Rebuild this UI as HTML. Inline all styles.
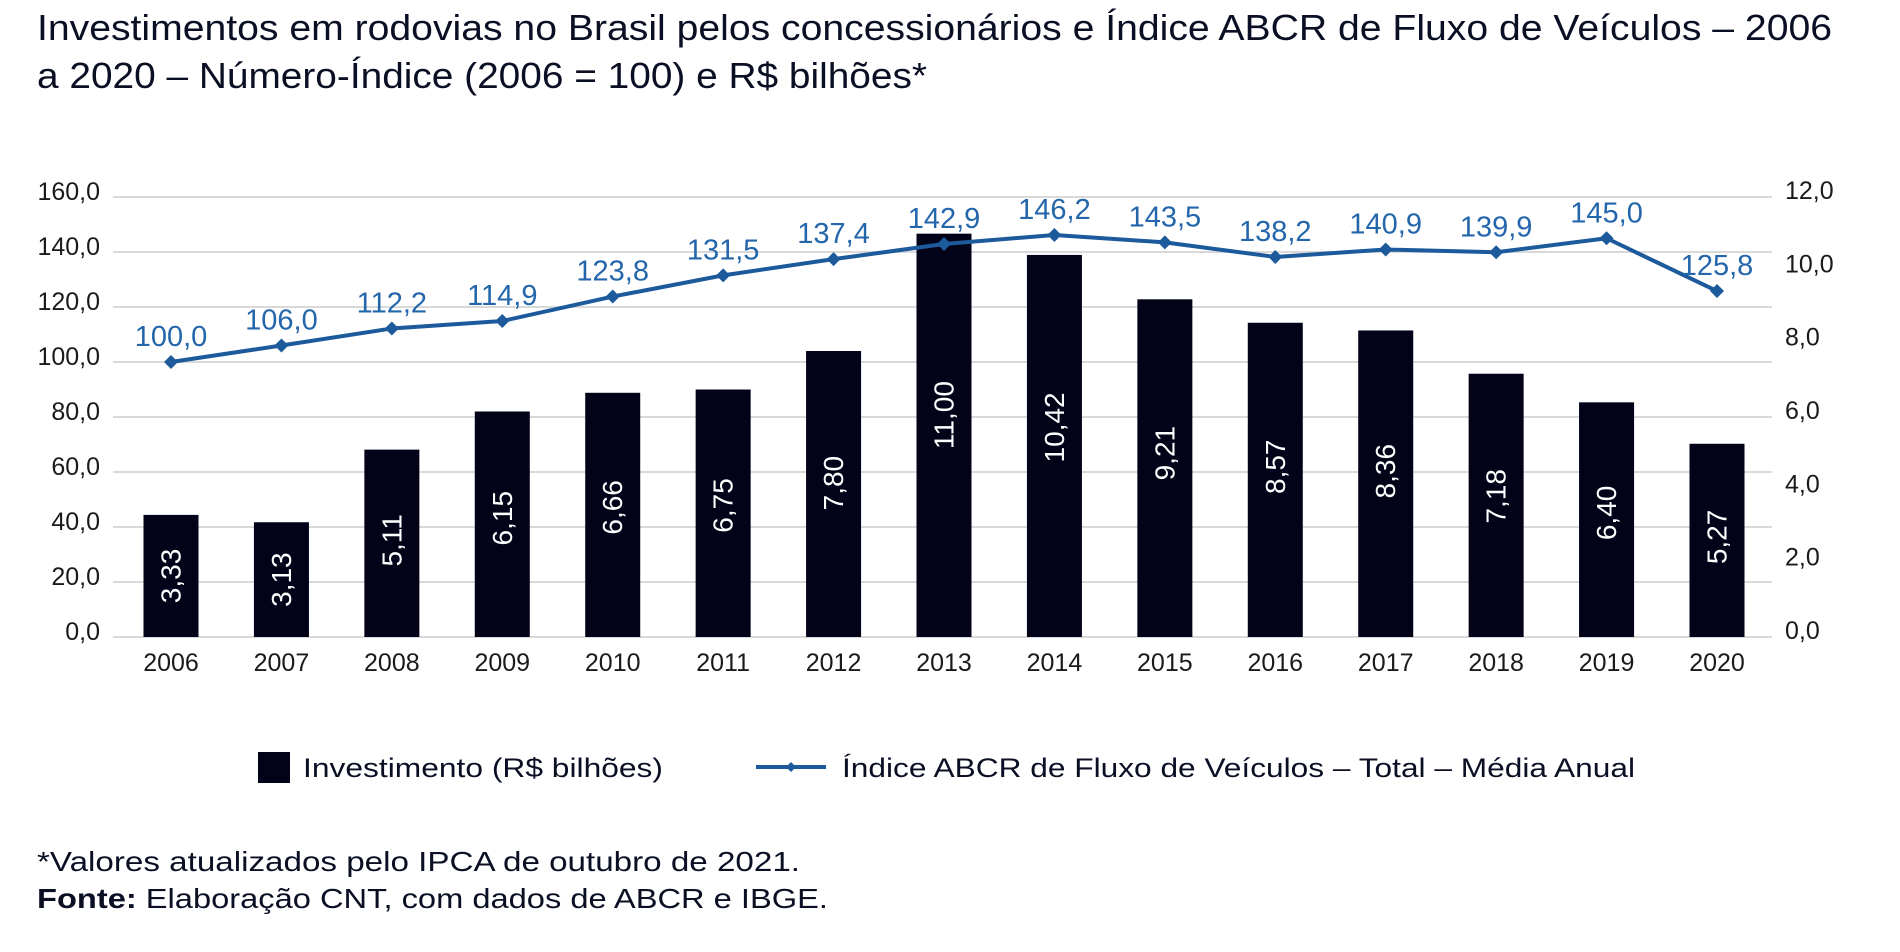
<!DOCTYPE html>
<html><head><meta charset="utf-8"><style>
html,body{margin:0;padding:0;background:#fff;width:1900px;height:952px;overflow:hidden}
svg text{font-family:"Liberation Sans",sans-serif}
</style></head><body>
<svg id="chart" width="1900" height="952" viewBox="0 0 1900 952" xmlns="http://www.w3.org/2000/svg">
<text x="37" y="40" font-size="36" fill="#0a0f24" textLength="1795" lengthAdjust="spacingAndGlyphs">Investimentos em rodovias no Brasil pelos concessionários e Índice ABCR de Fluxo de Veículos – 2006</text>
<text x="37" y="88" font-size="36" fill="#0a0f24" textLength="890" lengthAdjust="spacingAndGlyphs">a 2020 – Número-Índice (2006 = 100) e R$ bilhões*</text>
<g id="grid"></g>
<g id="bars"></g>
<g id="line"></g>
<g id="axes"></g>
<g>
<rect x="258" y="752" width="32" height="31" fill="#020318"/>
<text x="303" y="777" font-size="27" fill="#0a0f24" textLength="360" lengthAdjust="spacingAndGlyphs">Investimento (R$ bilhões)</text>
<line x1="756" y1="767" x2="826" y2="767" stroke="#1c5a9c" stroke-width="4"/>
<path d="M791 762 L796 767 L791 772 L786 767 Z" fill="#1c5a9c"/>
<text x="842" y="777" font-size="27" fill="#0a0f24" textLength="793" lengthAdjust="spacingAndGlyphs">Índice ABCR de Fluxo de Veículos – Total – Média Anual</text>
</g>
<text x="37" y="871" font-size="28" fill="#0a0f24" textLength="763" lengthAdjust="spacingAndGlyphs">*Valores atualizados pelo IPCA de outubro de 2021.</text>
<text x="37" y="908" font-size="28" fill="#0a0f24" textLength="791" lengthAdjust="spacingAndGlyphs"><tspan font-weight="bold">Fonte:</tspan> Elaboração CNT, com dados de ABCR e IBGE.</text>
</svg>
<script>
const years = ["2006","2007","2008","2009","2010","2011","2012","2013","2014","2015","2016","2017","2018","2019","2020"];
const investment = [3.33,3.13,5.11,6.15,6.66,6.75,7.80,11.00,10.42,9.21,8.57,8.36,7.18,6.40,5.27];
const indexValues = [100.0,106.0,112.2,114.9,123.8,131.5,137.4,142.9,146.2,143.5,138.2,140.9,139.9,145.0,125.8];
const leftTicks = [0,20,40,60,80,100,120,140,160];
const rightTicks = [0,2,4,6,8,10,12];

const NS="http://www.w3.org/2000/svg";
const plotL=113, plotR=1772, plotT=197, plotB=637;
const firstC=171, lastC=1717;
function xPos(i){return firstC+(lastC-firstC)*i/(years.length-1);}
function yLeft(v){return plotB-(v/160)*(plotB-plotT);}
function yRight(v){return plotB-(v/12)*(plotB-plotT);}
function fmt(v,d){return v.toFixed(d).replace('.',',');}
function mk(tag,attrs,parent,txt){const e=document.createElementNS(NS,tag);for(const k in attrs)e.setAttribute(k,attrs[k]);if(txt!==undefined)e.textContent=txt;parent.appendChild(e);return e;}

const grid=document.getElementById('grid'), axes=document.getElementById('axes');
leftTicks.forEach(t=>{
  const y=yLeft(t);
  const g=mk('line',{x1:plotL,x2:plotR,y1:y,y2:y,stroke:'#d9d9d9','stroke-width':2},grid);
  
  
  const l=mk('text',{x:100,y:y+3,'text-anchor':'end','font-size':25,fill:'#1a1a1a'},axes,fmt(t,1));
  
  
});
rightTicks.forEach(t=>{
  const y=yRight(t);
  const l=mk('text',{x:1785,y:y+2,'font-size':25,fill:'#1a1a1a'},axes,fmt(t,1));
  
  
});
const bars=document.getElementById('bars');
const bw=55;
years.forEach((yr,i)=>{
  const x=xPos(i), top=yRight(investment[i]);
  const r=mk('rect',{x:x-bw/2,y:top,width:bw,height:plotB-top,fill:'#020318'},bars);
  
  
  const cy=(top+plotB)/2 - Math.max(0,(plotB-top)-150)*0.08;
  const t=mk('text',{x:x,y:cy,'font-size':28,fill:'#ffffff','text-anchor':'middle','dominant-baseline':'central',transform:'rotate(-90 '+x+' '+cy+')'},bars,fmt(investment[i],2));
  
  
  const yl=mk('text',{x:x,y:671,'text-anchor':'middle','font-size':25,fill:'#1a1a1a'},axes,yr);
  
  
});
const line=document.getElementById('line');
const pts=indexValues.map((v,i)=>[xPos(i),yLeft(v)]);
const p=mk('polyline',{points:pts.map(q=>q.join(',')).join(' '),fill:'none',stroke:'#1c5a9c','stroke-width':4,'stroke-linejoin':'round'},line);


pts.forEach((q,i)=>{
  const m=mk('path',{d:`M${q[0]} ${q[1]-7} L${q[0]+7} ${q[1]} L${q[0]} ${q[1]+7} L${q[0]-7} ${q[1]} Z`,fill:'#1c5a9c'},line);
  
  
  const t=mk('text',{x:q[0],y:q[1]-16,'text-anchor':'middle','font-size':29,fill:'#2466ab'},line,fmt(indexValues[i],1));
  
  
});
</script>
</body></html>
